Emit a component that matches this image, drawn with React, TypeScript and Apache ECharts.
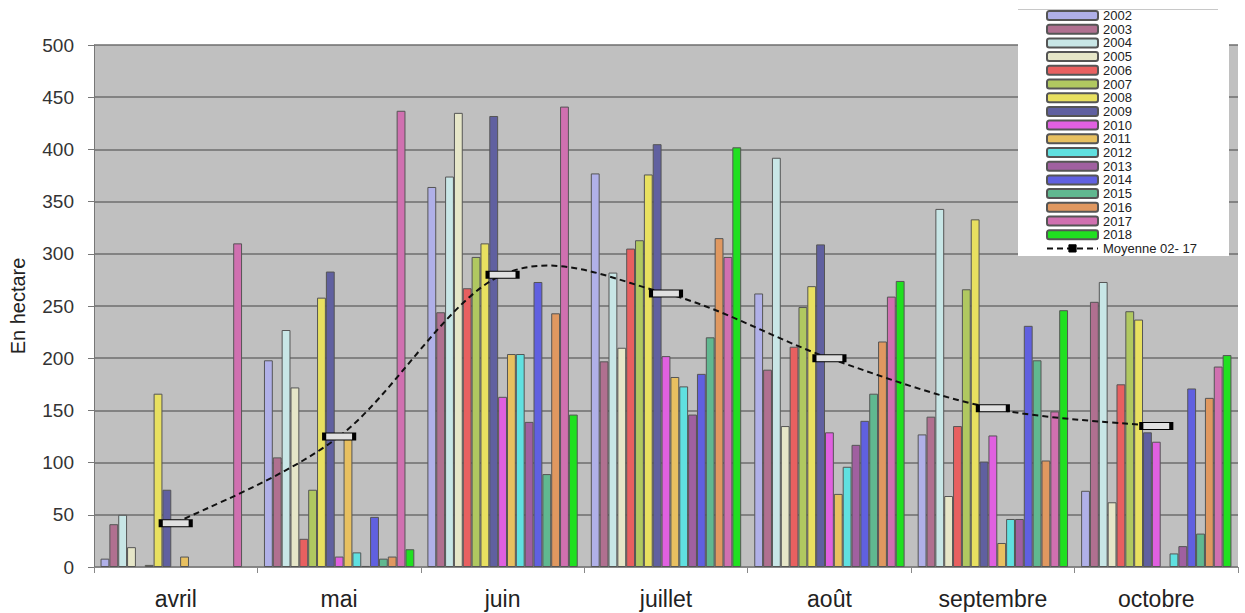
import React, { useEffect, useRef } from "react";
import * as echarts from "echarts";

const months = ["avril", "mai", "juin", "juillet", "août", "septembre", "octobre"];
const yearNames = ["2002","2003","2004","2005","2006","2007","2008","2009","2010","2011","2012","2013","2014","2015","2016","2017","2018"];
const yearColors = ["#b0b0e8","#b07090","#c8e6e6","#e6e6c8","#e86060","#b0c860","#e8e060","#6060a0","#e060e0","#e8c060","#60e0e0","#a060a0","#6060e0","#60b890","#e09860","#d070b0","#20e020"];

// values per year, by month (avril..octobre); null = no bar
const v2002 = [8, 198, 364, 377, 262, 127, 73];
const v2003 = [41, 105, 244, 197, 189, 144, 254];
const v2004 = [50, 227, 374, 282, 392, 343, 273];
const v2005 = [19, 172, 435, 210, 135, 68, 62];
const v2006 = [null, 27, 267, 305, 211, 135, 175];
const v2007 = [2, 74, 297, 313, 249, 266, 245];
const v2008 = [166, 258, 310, 376, 269, 333, 237];
const v2009 = [74, 283, 432, 405, 309, 101, 129];
const v2010 = [null, 10, 163, 202, 129, 126, 120];
const v2011 = [10, 123, 204, 182, 70, 23, null];
const v2012 = [null, 14, 204, 173, 96, 46, 13];
const v2013 = [null, 1, 139, 146, 117, 46, 20];
const v2014 = [null, 48, 273, 185, 140, 231, 171];
const v2015 = [null, 8, 89, 220, 166, 198, 32];
const v2016 = [null, 10, 243, 315, 216, 102, 162];
const v2017 = [310, 437, 441, 297, 259, 149, 192];
const v2018 = [null, 17, 146, 402, 274, 246, 203];
const moyenne = [42, 125, 280, 262, 200, 152, 135];

const yearValues = [v2002, v2003, v2004, v2005, v2006, v2007, v2008, v2009, v2010, v2011, v2012, v2013, v2014, v2015, v2016, v2017, v2018];

const FONT = "Liberation Sans, Arial, sans-serif";
const AVG_NAME = "Moyenne 02- 17";
const DASH = [6, 4];

export default function App() {
  const ref = useRef<HTMLDivElement>(null);
  useEffect(() => {
    if (!ref.current) return;
    const chart = echarts.init(ref.current, undefined, { renderer: "svg" });
    const barSeries = yearNames.map((name, i) => ({
      name,
      type: "bar",
      data: yearValues[i],
      barGap: "0%",
      barCategoryGap: "8%",
      itemStyle: { color: yearColors[i], borderColor: "#555", borderWidth: 1 },
      z: 2,
    }));
    const n = moyenne.length;
    const curveSeries = {
      name: "courbe",
      type: "custom",
      z: 4,
      silent: true,
      data: moyenne.map((v, i) => [i, v]),
      encode: { x: 0, y: 1 },
      renderItem: (params: any, api: any) => {
        const i = params.dataIndex;
        if (i >= n - 1) return null;
        const p = (k: number) => {
          const kk = Math.max(0, Math.min(n - 1, k));
          return api.coord([kk, moyenne[kk]]);
        };
        const p0 = p(i - 1), p1 = p(i), p2 = p(i + 1), p3 = p(i + 2);
        const t = 1 / 6;
        return {
          type: "bezierCurve",
          shape: {
            x1: p1[0], y1: p1[1],
            cpx1: p1[0] + (p2[0] - p0[0]) * t, cpy1: p1[1] + (p2[1] - p0[1]) * t,
            cpx2: p2[0] - (p3[0] - p1[0]) * t, cpy2: p2[1] - (p3[1] - p1[1]) * t,
            x2: p2[0], y2: p2[1],
          },
          style: { stroke: "#111", lineWidth: 2, lineDash: DASH, fill: null },
        };
      },
    };
    chart.setOption({
      animation: false,
      textStyle: { fontFamily: FONT },
      grid: {
        left: 93, right: 7, top: 45, bottom: 46,
        show: true, backgroundColor: "#c0c0c0", borderWidth: 0,
      },
      graphic: [
        { type: "rect", z: 3, shape: { x: 1018, y: 10, width: 211, height: 246 }, style: { fill: "#ffffff" } },
        { type: "line", z: 3, shape: { x1: 1018, y1: 9.5, x2: 1218, y2: 9.5 }, style: { stroke: "#c8c8c8", lineWidth: 1 } },
      ],
      legend: {
        orient: "vertical",
        left: 1046,
        top: 9,
        padding: 0,
        itemWidth: 51,
        itemHeight: 9,
        itemGap: 0.7,
        z: 6,
        textStyle: { fontSize: 13, color: "#222", fontFamily: FONT },
        data: [
          ...yearNames,
          {
            name: AVG_NAME,
            lineStyle: { color: "#111", width: 2, type: DASH, opacity: 1 },
            itemStyle: { color: "#000", borderColor: "#000", borderWidth: 1 },
          },
        ],
      },
      xAxis: {
        type: "category",
        data: months,
        axisLine: { show: true, lineStyle: { color: "#888", width: 1 } },
        axisTick: { show: true, length: 6, lineStyle: { color: "#888" } },
        axisLabel: { fontSize: 23, color: "#222", margin: 20, fontFamily: FONT },
        splitLine: { show: false },
      },
      yAxis: {
        type: "value",
        min: 0, max: 500, interval: 50,
        name: "En hectare",
        nameLocation: "middle",
        nameGap: 66,
        nameTextStyle: { fontSize: 20, color: "#222", fontFamily: FONT },
        axisLine: { show: true, lineStyle: { color: "#777", width: 1 } },
        axisTick: { show: true, length: 6, lineStyle: { color: "#777" } },
        axisLabel: { fontSize: 19, color: "#333", margin: 20, fontFamily: FONT },
        splitLine: { show: true, lineStyle: { color: "#6e6e6e", width: 1.5 } },
      },
      series: [
        ...barSeries,
        curveSeries,
        {
          name: AVG_NAME,
          type: "line",
          data: moyenne,
          z: 5,
          symbol: "rect",
          symbolSize: [30, 7],
          lineStyle: { opacity: 0 },
          itemStyle: { color: "#e0e0e0", borderColor: "#000", borderWidth: 2 },
        },
      ],
    });
    return () => chart.dispose();
  }, []);
  return <div ref={ref} style={{ width: 1245, height: 613, position: "absolute", left: 0, top: 0 }} />;
}
